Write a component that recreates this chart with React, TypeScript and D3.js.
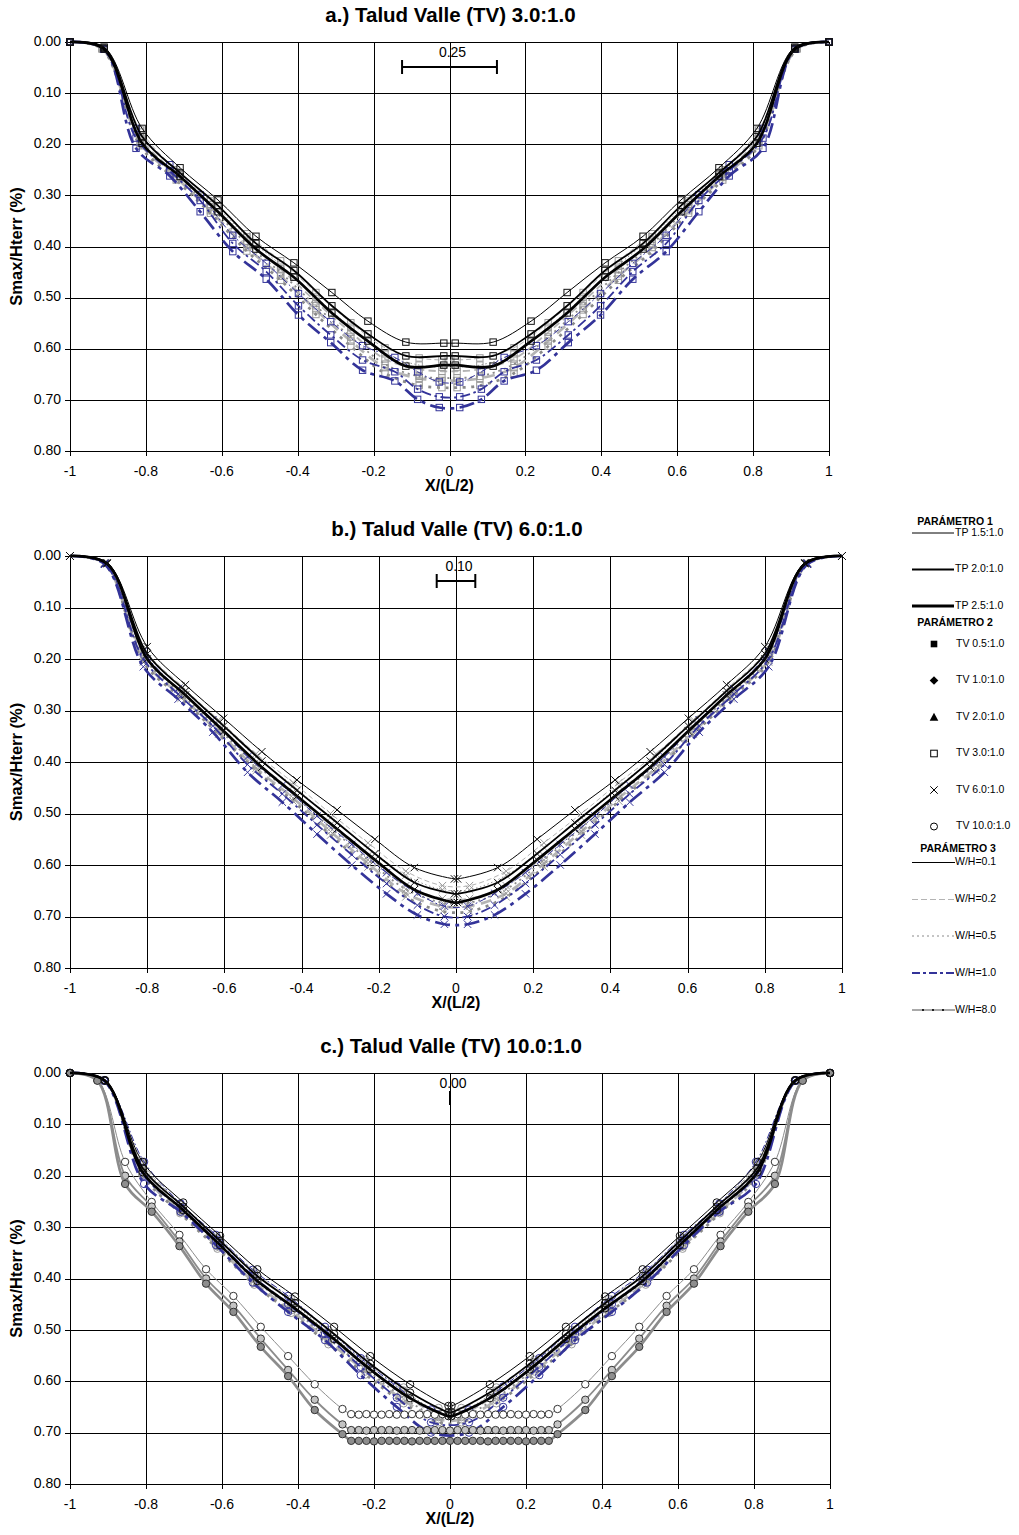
import React from 'react';
import * as d3 from 'd3';

// ---------- axis / text data ----------
const X_TICKS = [-1, -0.8, -0.6, -0.4, -0.2, 0, 0.2, 0.4, 0.6, 0.8, 1];
const Y_TICKS = [0, 0.1, 0.2, 0.3, 0.4, 0.5, 0.6, 0.7, 0.8];
const PANEL_TITLES = ['a.) Talud Valle (TV) 3.0:1.0', 'b.) Talud Valle (TV) 6.0:1.0', 'c.) Talud Valle (TV) 10.0:1.0'];
const SCALE_BARS = [0.25, 0.1, 0.0];
const Y_TITLE = 'Smax/Hterr (%)';
const X_TITLE = 'X/(L/2)';

const LEGEND_TP = ['TP 1.5:1.0', 'TP 2.0:1.0', 'TP 2.5:1.0'];
const LEGEND_TV = ['TV 0.5:1.0', 'TV 1.0:1.0', 'TV 2.0:1.0', 'TV 3.0:1.0', 'TV 6.0:1.0', 'TV 10.0:1.0'];
const LEGEND_WH = ['W/H=0.1', 'W/H=0.2', 'W/H=0.5', 'W/H=1.0', 'W/H=8.0'];
const LEGEND_HEADS = ['PARÁMETRO 1', 'PARÁMETRO 2', 'PARÁMETRO 3'];

// ---------- panel a (TV 3.0) — half profiles (x from 1 toward 0) ----------
const XA_K = [1, 0.91, 0.81, 0.71, 0.61, 0.51, 0.41, 0.31, 0.215, 0.115, 0.015];
const A_K15 = [0, 0.010, 0.169, 0.246, 0.309, 0.380, 0.432, 0.490, 0.546, 0.587, 0.589];
const A_K20 = [0, 0.012, 0.185, 0.256, 0.320, 0.394, 0.447, 0.516, 0.571, 0.614, 0.614];
const A_K25 = [0, 0.014, 0.198, 0.263, 0.332, 0.405, 0.460, 0.530, 0.585, 0.634, 0.632];

const XA_G = [1, 0.915, 0.815, 0.72, 0.63, 0.534, 0.445, 0.352, 0.26, 0.17, 0.08, 0.02];
const A_G02_15 = [0, 0.011, 0.172, 0.250, 0.306, 0.375, 0.428, 0.490, 0.549, 0.598, 0.618, 0.622];
const A_G02_20 = [0, 0.012, 0.186, 0.258, 0.318, 0.390, 0.444, 0.508, 0.568, 0.620, 0.640, 0.644];
const A_G02_25 = [0, 0.013, 0.198, 0.265, 0.330, 0.402, 0.458, 0.524, 0.585, 0.637, 0.658, 0.662];
const A_G05_15 = [0, 0.012, 0.176, 0.254, 0.311, 0.381, 0.436, 0.499, 0.558, 0.610, 0.632, 0.636];
const A_G05_20 = [0, 0.013, 0.190, 0.262, 0.322, 0.395, 0.451, 0.516, 0.577, 0.630, 0.654, 0.657];
const A_G05_25 = [0, 0.014, 0.203, 0.270, 0.335, 0.409, 0.466, 0.533, 0.595, 0.648, 0.672, 0.676];

const XA_B = [1, 0.91, 0.826, 0.737, 0.657, 0.571, 0.483, 0.398, 0.313, 0.229, 0.144, 0.084, 0.027];
const A_B15 = [0, 0.014, 0.169, 0.240, 0.299, 0.378, 0.433, 0.492, 0.547, 0.594, 0.617, 0.645, 0.665];
const A_B20 = [0, 0.014, 0.188, 0.252, 0.310, 0.394, 0.449, 0.516, 0.573, 0.622, 0.645, 0.679, 0.694];
const A_B25 = [0, 0.014, 0.208, 0.262, 0.332, 0.410, 0.464, 0.534, 0.588, 0.642, 0.663, 0.699, 0.715];

// ---------- panel b (TV 6.0) ----------
const XB_K = [1, 0.904, 0.8, 0.701, 0.602, 0.503, 0.412, 0.308, 0.21, 0.108, 0.004];
const B_K15 = [0, 0.013, 0.176, 0.250, 0.315, 0.380, 0.435, 0.493, 0.550, 0.605, 0.627];
const B_K20 = [0, 0.014, 0.190, 0.262, 0.330, 0.398, 0.455, 0.518, 0.578, 0.634, 0.656];
const B_K25 = [0, 0.015, 0.200, 0.270, 0.340, 0.410, 0.466, 0.530, 0.590, 0.648, 0.673];

const XB_G = [1, 0.91, 0.81, 0.712, 0.615, 0.518, 0.422, 0.325, 0.228, 0.13, 0.035];
const B_G02_15 = [0, 0.013, 0.178, 0.252, 0.318, 0.384, 0.440, 0.500, 0.557, 0.612, 0.640];
const B_G02_20 = [0, 0.014, 0.192, 0.264, 0.332, 0.400, 0.458, 0.522, 0.582, 0.640, 0.665];
const B_G02_25 = [0, 0.015, 0.202, 0.272, 0.342, 0.412, 0.470, 0.535, 0.597, 0.655, 0.680];
const B_G05_15 = [0, 0.013, 0.182, 0.256, 0.322, 0.390, 0.446, 0.508, 0.566, 0.620, 0.648];
const B_G05_20 = [0, 0.014, 0.196, 0.268, 0.336, 0.405, 0.463, 0.528, 0.590, 0.647, 0.673];
const B_G05_25 = [0, 0.015, 0.206, 0.276, 0.346, 0.417, 0.476, 0.542, 0.604, 0.662, 0.690];

const XB_B = [1, 0.91, 0.81, 0.72, 0.63, 0.54, 0.45, 0.36, 0.27, 0.18, 0.1, 0.03];
const B_B15 = [0, 0.014, 0.185, 0.258, 0.318, 0.390, 0.445, 0.505, 0.560, 0.615, 0.655, 0.680];
const B_B20 = [0, 0.015, 0.200, 0.268, 0.330, 0.405, 0.462, 0.522, 0.580, 0.636, 0.678, 0.700];
const B_B25 = [0, 0.016, 0.215, 0.278, 0.342, 0.420, 0.478, 0.540, 0.600, 0.656, 0.697, 0.715];

// ---------- panel c (TV 10.0) ----------
const XC_K = [1, 0.908, 0.809, 0.702, 0.605, 0.507, 0.408, 0.305, 0.21, 0.105, 0.004];
const C_K15 = [0, 0.014, 0.173, 0.252, 0.317, 0.382, 0.435, 0.494, 0.551, 0.606, 0.648];
const C_K20 = [0, 0.014, 0.185, 0.260, 0.327, 0.395, 0.448, 0.508, 0.566, 0.622, 0.660];
const C_K25 = [0, 0.015, 0.193, 0.267, 0.335, 0.405, 0.458, 0.518, 0.577, 0.633, 0.668];

const XC_G = [1, 0.91, 0.81, 0.71, 0.612, 0.515, 0.418, 0.32, 0.222, 0.122, 0.03];
const C_G02_15 = [0, 0.014, 0.175, 0.254, 0.320, 0.386, 0.440, 0.500, 0.558, 0.612, 0.652];
const C_G02_20 = [0, 0.015, 0.186, 0.262, 0.330, 0.398, 0.452, 0.512, 0.570, 0.626, 0.664];
const C_G02_25 = [0, 0.015, 0.195, 0.270, 0.338, 0.408, 0.462, 0.522, 0.581, 0.637, 0.674];
const C_G05_15 = [0, 0.014, 0.178, 0.256, 0.323, 0.390, 0.445, 0.505, 0.563, 0.618, 0.658];
const C_G05_20 = [0, 0.015, 0.190, 0.265, 0.333, 0.402, 0.457, 0.517, 0.576, 0.632, 0.670];
const C_G05_25 = [0, 0.015, 0.198, 0.273, 0.342, 0.412, 0.467, 0.528, 0.587, 0.643, 0.680];

const XC_B = [1, 0.91, 0.805, 0.709, 0.616, 0.519, 0.426, 0.329, 0.235, 0.14, 0.05];
const C_B15 = [0, 0.014, 0.173, 0.254, 0.315, 0.383, 0.434, 0.494, 0.555, 0.610, 0.655];
const C_B20 = [0, 0.015, 0.200, 0.262, 0.325, 0.395, 0.450, 0.508, 0.572, 0.632, 0.680];
const C_B25 = [0, 0.015, 0.216, 0.270, 0.335, 0.408, 0.465, 0.520, 0.588, 0.650, 0.700];

const XC_W = [1, 0.928, 0.855, 0.785, 0.712, 0.642, 0.57, 0.498, 0.426, 0.356, 0.283,
  0.26, 0.24, 0.22, 0.2, 0.18, 0.16, 0.14, 0.12, 0.1, 0.08, 0.06, 0.04, 0.02, 0];
const C_W15 = [0, 0.014, 0.173, 0.251, 0.315, 0.382, 0.434, 0.494, 0.551, 0.606, 0.654,
  0.664, 0.665, 0.664, 0.665, 0.665, 0.664, 0.665, 0.665, 0.664, 0.665, 0.664, 0.665, 0.664, 0.664];
const C_W20 = [0, 0.014, 0.200, 0.260, 0.328, 0.400, 0.453, 0.517, 0.578, 0.636, 0.684,
  0.695, 0.695, 0.696, 0.695, 0.695, 0.695, 0.696, 0.695, 0.695, 0.696, 0.695, 0.695, 0.695, 0.696];
const C_W25 = [0, 0.015, 0.216, 0.270, 0.337, 0.410, 0.465, 0.533, 0.590, 0.656, 0.703,
  0.716, 0.716, 0.716, 0.717, 0.716, 0.716, 0.716, 0.716, 0.717, 0.716, 0.716, 0.716, 0.716, 0.716];

type Series = { tp: number; wh: number; xs: number[]; ys: number[] };

const PANEL_SERIES: Series[][] = [
  [
    { tp: 1.5, wh: 0.2, xs: XA_G, ys: A_G02_15 },
    { tp: 2.0, wh: 0.2, xs: XA_G, ys: A_G02_20 },
    { tp: 2.5, wh: 0.2, xs: XA_G, ys: A_G02_25 },
    { tp: 1.5, wh: 0.5, xs: XA_G, ys: A_G05_15 },
    { tp: 2.0, wh: 0.5, xs: XA_G, ys: A_G05_20 },
    { tp: 2.5, wh: 0.5, xs: XA_G, ys: A_G05_25 },
    { tp: 1.5, wh: 1.0, xs: XA_B, ys: A_B15 },
    { tp: 2.0, wh: 1.0, xs: XA_B, ys: A_B20 },
    { tp: 2.5, wh: 1.0, xs: XA_B, ys: A_B25 },
    { tp: 1.5, wh: 0.1, xs: XA_K, ys: A_K15 },
    { tp: 2.0, wh: 0.1, xs: XA_K, ys: A_K20 },
    { tp: 2.5, wh: 0.1, xs: XA_K, ys: A_K25 },
  ],
  [
    { tp: 1.5, wh: 0.2, xs: XB_G, ys: B_G02_15 },
    { tp: 2.0, wh: 0.2, xs: XB_G, ys: B_G02_20 },
    { tp: 2.5, wh: 0.2, xs: XB_G, ys: B_G02_25 },
    { tp: 1.5, wh: 0.5, xs: XB_G, ys: B_G05_15 },
    { tp: 2.0, wh: 0.5, xs: XB_G, ys: B_G05_20 },
    { tp: 2.5, wh: 0.5, xs: XB_G, ys: B_G05_25 },
    { tp: 1.5, wh: 1.0, xs: XB_B, ys: B_B15 },
    { tp: 2.0, wh: 1.0, xs: XB_B, ys: B_B20 },
    { tp: 2.5, wh: 1.0, xs: XB_B, ys: B_B25 },
    { tp: 1.5, wh: 0.1, xs: XB_K, ys: B_K15 },
    { tp: 2.0, wh: 0.1, xs: XB_K, ys: B_K20 },
    { tp: 2.5, wh: 0.1, xs: XB_K, ys: B_K25 },
  ],
  [
    { tp: 1.5, wh: 0.2, xs: XC_G, ys: C_G02_15 },
    { tp: 2.0, wh: 0.2, xs: XC_G, ys: C_G02_20 },
    { tp: 2.5, wh: 0.2, xs: XC_G, ys: C_G02_25 },
    { tp: 1.5, wh: 0.5, xs: XC_G, ys: C_G05_15 },
    { tp: 2.0, wh: 0.5, xs: XC_G, ys: C_G05_20 },
    { tp: 2.5, wh: 0.5, xs: XC_G, ys: C_G05_25 },
    { tp: 1.5, wh: 1.0, xs: XC_B, ys: C_B15 },
    { tp: 2.0, wh: 1.0, xs: XC_B, ys: C_B20 },
    { tp: 2.5, wh: 1.0, xs: XC_B, ys: C_B25 },
    { tp: 1.5, wh: 8.0, xs: XC_W, ys: C_W15 },
    { tp: 2.0, wh: 8.0, xs: XC_W, ys: C_W20 },
    { tp: 2.5, wh: 8.0, xs: XC_W, ys: C_W25 },
    { tp: 1.5, wh: 0.1, xs: XC_K, ys: C_K15 },
    { tp: 2.0, wh: 0.1, xs: XC_K, ys: C_K20 },
    { tp: 2.5, wh: 0.1, xs: XC_K, ys: C_K25 },
  ],
];

// ---------- layout & style (not data) ----------
const LAYOUT = [
  { left: 70, right: 829, top: 42, bottom: 451 },
  { left: 70, right: 842, top: 556, bottom: 968 },
  { left: 70, right: 830, top: 1073, bottom: 1484 },
];
const MARKERS = ['square', 'x', 'circle'];
const FONT = 'Liberation Sans, Arial, Helvetica, sans-serif';
const BLUE = '#333399';

function lineWidth(tp: number) {
  return tp === 1.5 ? 1 : tp === 2.0 ? 1.8 : 2.7;
}
function lineColor(wh: number) {
  if (wh === 0.1) return '#000';
  if (wh === 0.2) return '#b4b4b4';
  if (wh === 0.5) return '#8a8a8a';
  if (wh === 1.0) return BLUE;
  return '#8c8c8c';
}
function lineDash(wh: number, w: number): string | undefined {
  const k = Math.max(1, w * 0.8);
  if (wh === 0.2) return `${5 * k},${3 * k}`;
  if (wh === 0.5) return `${1.4 * k},${2.6 * k}`;
  if (wh === 1.0) return `${7 * k},${2.5 * k},${1.8 * k},${2.5 * k}`;
  return undefined;
}
function markerStroke(wh: number) {
  if (wh === 0.1) return '#111';
  if (wh === 1.0) return BLUE;
  if (wh === 8.0) return '#333';
  return '#9a9a9a';
}
function markerFill(wh: number, tp: number) {
  if (wh !== 8.0) return 'none';
  return tp === 1.5 ? '#fff' : tp === 2.0 ? '#c4c4c4' : '#8e8e8e';
}
function fmtX(t: number) {
  return String(+t.toFixed(1));
}

function mirror(xs: number[], ys: number[]): [number, number][] {
  const pts: [number, number][] = [];
  for (let i = 0; i < xs.length; i++) pts.push([-xs[i], ys[i]]);
  for (let i = xs.length - 1; i >= 0; i--) if (xs[i] !== 0) pts.push([xs[i], ys[i]]);
  return pts;
}

function Marker({ shape, x, y, stroke, fill }: any) {
  const s = 3.2;
  if (shape === 'square')
    return <rect x={x - s} y={y - s} width={2 * s} height={2 * s} fill={fill} stroke={stroke} strokeWidth={1} />;
  if (shape === 'x')
    return (
      <path d={`M${x - 3.7},${y - 3.7}L${x + 3.7},${y + 3.7}M${x - 3.7},${y + 3.7}L${x + 3.7},${y - 3.7}`} stroke={stroke} strokeWidth={1} fill="none" />
    );
  return <circle cx={x} cy={y} r={3.7} fill={fill} stroke={stroke} strokeWidth={1} />;
}

function Panel({ idx }: { idx: number }) {
  const L = LAYOUT[idx];
  const sx = d3.scaleLinear().domain([-1, 1]).range([L.left, L.right]);
  const sy = d3.scaleLinear().domain([0, 0.8]).range([L.top, L.bottom]);
  const line = d3
    .line<[number, number]>()
    .x((d) => sx(d[0]))
    .y((d) => sy(d[1]))
    .curve(d3.curveCatmullRom.alpha(0.5));
  const series = PANEL_SERIES[idx];
  const shape = MARKERS[idx];
  const cx = (L.left + L.right) / 2;
  const bar = SCALE_BARS[idx];
  const barY = L.top + 25;
  const fmtY = d3.format('.2f');
  return (
    <g>
      <text x={cx + 1} y={L.top - 25} textAnchor="middle" dominantBaseline="middle" fontFamily={FONT} fontWeight="bold" fontSize={20.5}>
        {PANEL_TITLES[idx]}
      </text>
      {/* grid */}
      {X_TICKS.map((t) => (
        <line key={'gx' + t} x1={Math.round(sx(t)) + 0.5} x2={Math.round(sx(t)) + 0.5} y1={L.top} y2={L.bottom + 5} stroke="#000" strokeWidth={1} />
      ))}
      {Y_TICKS.map((t) => (
        <line key={'gy' + t} x1={L.left - 5} x2={L.right} y1={Math.round(sy(t)) + 0.5} y2={Math.round(sy(t)) + 0.5} stroke="#000" strokeWidth={1} />
      ))}
      {/* tick labels */}
      {Y_TICKS.map((t) => (
        <text key={'ly' + t} x={L.left - 9} y={sy(t)} textAnchor="end" dominantBaseline="middle" fontFamily={FONT} fontSize={14}>
          {fmtY(t)}
        </text>
      ))}
      {X_TICKS.map((t) => (
        <text key={'lx' + t} x={sx(t)} y={L.bottom + 21} textAnchor="middle" dominantBaseline="middle" fontFamily={FONT} fontSize={14}>
          {fmtX(t)}
        </text>
      ))}
      <text x={cx} y={L.bottom + 36} textAnchor="middle" dominantBaseline="middle" fontFamily={FONT} fontWeight="bold" fontSize={16}>
        {X_TITLE}
      </text>
      <text
        transform={`translate(18,${(L.top + L.bottom) / 2}) rotate(-90)`}
        textAnchor="middle"
        dominantBaseline="middle"
        fontFamily={FONT}
        fontWeight="bold"
        fontSize={16.5}
      >
        {Y_TITLE}
      </text>
      {/* scale bar */}
      <text x={sx(0) + 3} y={L.top + 11} textAnchor="middle" dominantBaseline="middle" fontFamily={FONT} fontSize={14}>
        {fmtY(bar)}
      </text>
      <line x1={sx(-bar / 2)} x2={sx(bar / 2)} y1={barY} y2={barY} stroke="#000" strokeWidth={2.2} />
      <line x1={sx(-bar / 2)} x2={sx(-bar / 2)} y1={barY - 7} y2={barY + 7} stroke="#000" strokeWidth={2} />
      <line x1={sx(bar / 2)} x2={sx(bar / 2)} y1={barY - 7} y2={barY + 7} stroke="#000" strokeWidth={2} />
      {/* series */}
      {series.map((s, i) => {
        const pts = mirror(s.xs, s.ys);
        const w = lineWidth(s.tp);
        return (
          <g key={'s' + i}>
            <path d={line(pts) || ''} fill="none" stroke={lineColor(s.wh)} strokeWidth={w} strokeDasharray={lineDash(s.wh, w)} />
            {pts.map((p, j) => (
              <Marker key={j} shape={shape} x={sx(p[0])} y={sy(p[1])} stroke={markerStroke(s.wh)} fill={markerFill(s.wh, s.tp)} />
            ))}
          </g>
        );
      })}
    </g>
  );
}

function Legend() {
  const lx1 = 912;
  const lx2 = 954;
  const tpY = [533, 569.5, 606];
  const tvY = [644, 680.5, 717, 753.5, 790, 826.5];
  const whY = [862.5, 899.5, 936, 973, 1010];
  const mx = 934;
  const fs = 10.5;
  const hs = 10.5;
  const tvMarker = (i: number, y: number) => {
    if (i === 0) return <rect x={mx - 3.3} y={y - 3.3} width={6.6} height={6.6} fill="#000" />;
    if (i === 1) return <path d={`M${mx},${y - 4.3}L${mx + 4.3},${y}L${mx},${y + 4.3}L${mx - 4.3},${y}Z`} fill="#000" />;
    if (i === 2) return <path d={`M${mx},${y - 4.3}L${mx + 4.3},${y + 3.7}L${mx - 4.3},${y + 3.7}Z`} fill="#000" />;
    if (i === 3) return <rect x={mx - 3.3} y={y - 3.3} width={6.6} height={6.6} fill="none" stroke="#000" strokeWidth={1} />;
    if (i === 4)
      return <path d={`M${mx - 3.7},${y - 3.7}L${mx + 3.7},${y + 3.7}M${mx - 3.7},${y + 3.7}L${mx + 3.7},${y - 3.7}`} stroke="#000" strokeWidth={1} />;
    return <circle cx={mx} cy={y} r={3.5} fill="none" stroke="#000" strokeWidth={1} />;
  };
  const whStyles = [
    { c: '#000', w: 1, d: undefined },
    { c: '#b4b4b4', w: 1, d: '6,3' },
    { c: '#8a8a8a', w: 1, d: '2,3' },
    { c: BLUE, w: 2, d: '8,3,3,3' },
    { c: '#555', w: 1, d: undefined },
  ];
  return (
    <g fontFamily={FONT}>
      <text x={955} y={522} textAnchor="middle" dominantBaseline="middle" fontWeight="bold" fontSize={hs}>
        {LEGEND_HEADS[0]}
      </text>
      {LEGEND_TP.map((t, i) => (
        <g key={t}>
          <line x1={lx1} x2={lx2} y1={tpY[i]} y2={tpY[i]} stroke="#000" strokeWidth={i + 1} />
          <text x={lx2 + 1} y={tpY[i]} dominantBaseline="middle" fontSize={fs}>
            {t}
          </text>
        </g>
      ))}
      <text x={955} y={623} textAnchor="middle" dominantBaseline="middle" fontWeight="bold" fontSize={hs}>
        {LEGEND_HEADS[1]}
      </text>
      {LEGEND_TV.map((t, i) => (
        <g key={t}>
          {tvMarker(i, tvY[i])}
          <text x={956} y={tvY[i]} dominantBaseline="middle" fontSize={fs}>
            {t}
          </text>
        </g>
      ))}
      <text x={958} y={849} textAnchor="middle" dominantBaseline="middle" fontWeight="bold" fontSize={hs}>
        {LEGEND_HEADS[2]}
      </text>
      {LEGEND_WH.map((t, i) => (
        <g key={t}>
          <line x1={lx1} x2={lx2 + 1} y1={whY[i]} y2={whY[i]} stroke={whStyles[i].c} strokeWidth={whStyles[i].w} strokeDasharray={whStyles[i].d} />
          {i === 4 &&
            [922, 932, 942].map((tx) => <line key={tx} x1={tx} x2={tx + 2} y1={whY[i]} y2={whY[i]} stroke="#222" strokeWidth={2} />)}
          <text x={lx2 + 1} y={whY[i]} dominantBaseline="middle" fontSize={fs}>
            {t}
          </text>
        </g>
      ))}
    </g>
  );
}

export default function App() {
  return (
    <svg width={1019} height={1535} style={{ position: 'absolute', left: 0, top: 0, background: '#fff' }}>
      <rect x={0} y={0} width={1019} height={1535} fill="#fff" />
      {[0, 1, 2].map((i) => (
        <Panel key={i} idx={i} />
      ))}
      <Legend />
    </svg>
  );
}
